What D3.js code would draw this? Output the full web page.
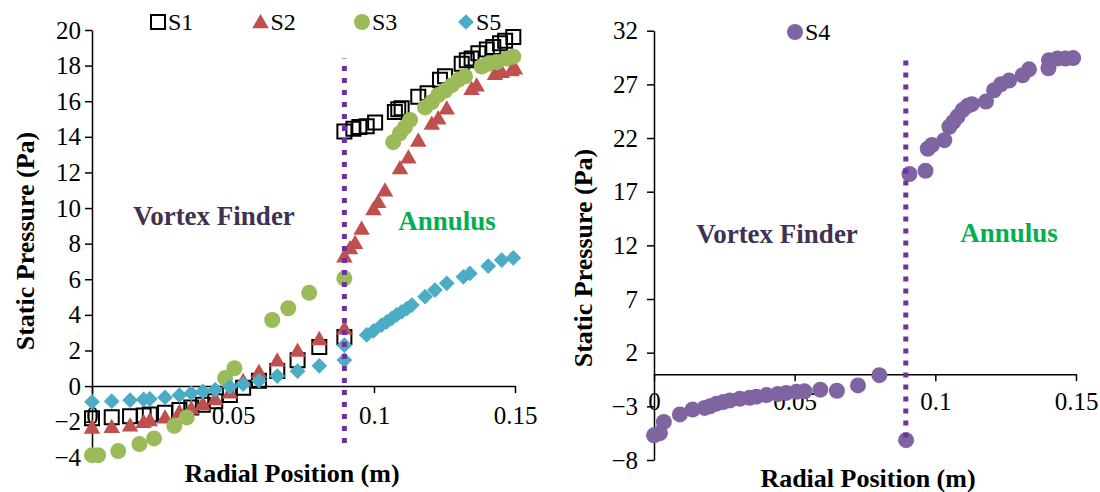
<!DOCTYPE html>
<html><head><meta charset="utf-8">
<script src="https://cdn.jsdelivr.net/npm/d3@7"></script>
<style>
body{margin:0;background:#fff}
svg{display:block}
text{font-family:"Liberation Serif","Times New Roman",serif}
</style>
</head><body>
<svg id="c" width="1100" height="492"></svg>
<script>
// ---------- data ----------
const xTicks = [0, 0.05, 0.1, 0.15];
const yTicksL = [-4, -2, 0, 2, 4, 6, 8, 10, 12, 14, 16, 18, 20];
const yTicksR = [-8, -3, 2, 7, 12, 17, 22, 27, 32];
const seriesNamesL = ["S1", "S2", "S3", "S5"];
const seriesNamesR = ["S4"];

const s1x = [0,0.007,0.0135,0.0183,0.0205,0.0259,0.031,0.0352,0.0393,0.0437,0.0489,0.0536,0.0592,0.0657,0.0729,0.0806,0.0895,
  0.0895,0.0927,0.0948,0.0974,0.1004,0.1074,0.1086,0.1098,0.1157,0.119,0.1234,0.1252,0.1311,0.1329,0.1346,0.137,0.14,0.1423,0.1447,0.1465,0.1494];
const s1y = [-1.8,-1.75,-1.7,-1.65,-1.6,-1.5,-1.35,-1.2,-1.05,-0.85,-0.5,-0.1,0.3,0.85,1.45,2.2,2.75,
  14.3,14.45,14.55,14.6,14.8,15.4,15.55,15.6,16.25,16.45,17.2,17.4,18.1,18.3,18.4,18.7,18.9,19.05,19.25,19.4,19.6];

const s2x = [0,0.007,0.0135,0.0183,0.0205,0.0259,0.031,0.0352,0.0393,0.0437,0.0489,0.0536,0.0592,0.0657,0.0729,0.0806,0.0895,
  0.0895,0.0915,0.0933,0.0956,0.0998,0.1015,0.1039,0.1092,0.1122,0.1157,0.1205,0.1228,0.1258,0.1346,0.1364,0.1429,0.1453,0.1488,0.15];
const s2y = [-2.32,-2.28,-2.2,-2.0,-1.9,-1.75,-1.45,-1.25,-1.0,-0.72,-0.35,0.3,0.8,1.45,2.0,2.65,3.25,
  7.3,7.75,8.05,8.85,9.95,10.35,11.0,12.25,12.85,13.8,14.75,15.05,15.6,16.7,16.9,17.55,17.65,17.75,17.85];

const s3x = [0,0.0022,0.0093,0.0168,0.022,0.0292,0.0336,0.0472,0.0505,0.0639,0.0696,0.077,0.0895,
  0.1068,0.1092,0.111,0.1128,0.1181,0.1205,0.1228,0.1252,0.1276,0.1299,0.1323,0.1382,0.1405,0.1435,0.1471,0.1494];
const s3y = [-3.88,-3.88,-3.65,-3.26,-2.94,-2.23,-1.76,0.45,1.0,3.71,4.37,5.24,6.05,
  13.7,14.2,14.55,14.95,15.65,15.95,16.35,16.6,16.9,17.2,17.4,17.95,18.1,18.2,18.4,18.5];

const s5x = [0,0.007,0.0135,0.0183,0.0205,0.0259,0.031,0.0352,0.0393,0.0437,0.0489,0.0536,0.0592,0.0657,0.0729,0.0806,0.0895,
  0.0895,0.0974,0.0998,0.1027,0.1045,0.1063,0.108,0.1098,0.1116,0.1134,0.1181,0.1216,0.1258,0.1317,0.134,0.1405,0.1453,0.1494];
const s5y = [-0.88,-0.85,-0.79,-0.75,-0.72,-0.64,-0.51,-0.4,-0.3,-0.2,-0.04,0.11,0.3,0.56,0.84,1.14,1.46,
  2.3,2.87,3.1,3.43,3.6,3.8,4.0,4.17,4.35,4.55,5.02,5.39,5.77,6.14,6.33,6.74,7.08,7.2];

const s4x = [0,0.0021,0.0035,0.0092,0.0137,0.018,0.0199,0.0222,0.0246,0.027,0.0305,0.034,0.0364,0.04,0.044,0.047,0.0506,0.0535,0.0591,0.065,0.0725,0.0801,0.0896,
  0.0908,0.0965,0.0973,0.0988,0.1032,0.105,0.1064,0.1079,0.1097,0.1115,0.113,0.118,0.1209,0.1233,0.1262,0.131,0.1333,0.1402,0.1404,0.1434,0.1462,0.149];
const s4y = [-5.7,-5.5,-4.45,-3.75,-3.3,-3.15,-3.0,-2.75,-2.6,-2.45,-2.3,-2.2,-2.1,-1.95,-1.85,-1.75,-1.65,-1.6,-1.45,-1.55,-1.05,-0.1,-6.15,
  18.65,18.95,21.0,21.35,21.8,23.05,23.5,24.0,24.6,25.0,25.15,25.4,26.45,27.0,27.35,27.85,28.4,28.5,29.25,29.4,29.4,29.45];

const boundaryX = [0.0895, 0.0895];
const boundaryYL = [-3.2, 18.4];
const boundaryYR = [-5.9, 29.3];

// ---------- drawing ----------
const svg = d3.select("#c");
const FONT = '"Liberation Serif","Times New Roman",serif';
const col = {S1:"#000000", S2:"#C0504D", S3:"#9BBB59", S5:"#4BACC6", S4:"#8064A2"};

const xL = d3.scaleLinear().domain([0, 0.15]).range([92, 515]);
const yL = d3.scaleLinear().domain([-4, 20]).range([457.3, 30]);
const xR = d3.scaleLinear().domain([0, 0.15]).range([654, 1076]);
const yR = d3.scaleLinear().domain([-8, 32]).range([460, 30.7]);

const fmt = d => d === 0 ? "0" : String(d);

function styleAxis(g) {
  g.selectAll("path,line").attr("stroke", "#000").attr("stroke-width", 1.5);
  g.selectAll("text").attr("font-family", FONT).attr("font-size", 25).attr("fill", "#000");
}

function axes(x, y, yTicks, pad, xLabY) {
  const ga = svg.append("g").attr("transform", `translate(${x(0)},0)`)
    .call(d3.axisLeft(y).tickValues(yTicks).tickSize(7).tickSizeOuter(0).tickPadding(pad));
  styleAxis(ga);
  const gb = svg.append("g").attr("transform", `translate(0,${y(0)})`)
    .call(d3.axisBottom(x).tickValues(xTicks).tickFormat(fmt).tickSize(7).tickSizeOuter(0));
  styleAxis(gb);
  gb.selectAll("text").attr("dy", null).attr("y", xLabY);
}
axes(xL, yL, yTicksL, 4, 38);
axes(xR, yR, yTicksR, 9, 36);

// symbols
const sq = d3.symbol().type(d3.symbolSquare).size(196);
const tri = d3.symbol().type(d3.symbolTriangle).size(118);
const dia = d3.symbol().type(d3.symbolSquare).size(124);
const rC = 8;

function pts(xs, ys) { return xs.map((v, i) => ({x: v, y: ys[i]})); }

const gL = svg.append("g");
gL.selectAll(".s1").data(pts(s1x, s1y)).join("path")
  .attr("d", sq).attr("transform", d => `translate(${xL(d.x)},${yL(d.y)})`)
  .attr("fill", "none").attr("stroke", col.S1).attr("stroke-width", 2);
gL.selectAll(".s2").data(pts(s2x, s2y)).join("path")
  .attr("d", tri).attr("transform", d => `translate(${xL(d.x)},${yL(d.y)+1.5})`)
  .attr("fill", col.S2);
gL.selectAll(".s3").data(pts(s3x, s3y)).join("circle")
  .attr("cx", d => xL(d.x)).attr("cy", d => yL(d.y)).attr("r", rC)
  .attr("fill", col.S3);
gL.selectAll(".s5").data(pts(s5x, s5y)).join("path")
  .attr("d", dia).attr("transform", d => `translate(${xL(d.x)},${yL(d.y)}) rotate(45)`)
  .attr("fill", col.S5);

const gR = svg.append("g");
gR.selectAll(".s4").data(pts(s4x, s4y)).join("circle")
  .attr("cx", d => xR(d.x)).attr("cy", d => yR(d.y)).attr("r", rC)
  .attr("fill", col.S4);

// boundary dotted lines
const line = (x, y) => d3.line().x(d => x(d.x)).y(d => y(d.y));
svg.append("path").datum(pts(boundaryX, boundaryYL)).attr("d", line(xL, yL))
  .attr("stroke", "#7030A0").attr("stroke-width", 5).attr("stroke-dasharray", "5,7").attr("fill", "none");
svg.append("path").datum(pts(boundaryX, boundaryYR)).attr("d", line(xR, yR))
  .attr("stroke", "#7030A0").attr("stroke-width", 5).attr("stroke-dasharray", "5,7").attr("fill", "none");

// region labels
function lab(x, y, t, c) {
  svg.append("text").attr("x", x).attr("y", y).attr("text-anchor", "middle")
    .attr("font-family", FONT).attr("font-weight", "bold").attr("font-size", 27).attr("fill", c).text(t);
}
lab(214, 225, "Vortex Finder", "#403152");
lab(447, 230, "Annulus", "#00B050");
lab(777, 243, "Vortex Finder", "#403152");
lab(1009, 242, "Annulus", "#00B050");

// axis titles
function title(x, y, t, rot) {
  const e = svg.append("text").attr("text-anchor", "middle").attr("font-family", FONT)
    .attr("font-weight", "bold").attr("font-size", 26).attr("fill", "#000").text(t);
  if (rot) e.attr("transform", `translate(${x},${y}) rotate(-90)`);
  else e.attr("x", x).attr("y", y);
}
title(292, 482, "Radial Position (m)");
title(868, 487, "Radial Position (m)");
title(34, 241, "Static Pressure (Pa)", true);
title(592, 258, "Static Pressure (Pa)", true);

// legends
const legL = [
  {n: seriesNamesL[0], x: 158, draw: g => g.append("path").attr("d", sq).attr("fill", "none").attr("stroke", col.S1).attr("stroke-width", 2)},
  {n: seriesNamesL[1], x: 260.5, draw: g => g.append("path").attr("d", tri).attr("transform", "translate(0,1.5)").attr("fill", col.S2)},
  {n: seriesNamesL[2], x: 362, draw: g => g.append("circle").attr("r", rC).attr("fill", col.S3)},
  {n: seriesNamesL[3], x: 466, draw: g => g.append("path").attr("d", dia).attr("transform", "rotate(45)").attr("fill", col.S5)}
];
legL.forEach(l => {
  const g = svg.append("g").attr("transform", `translate(${l.x},22)`);
  l.draw(g);
  svg.append("text").attr("x", l.x + 10).attr("y", 30).attr("font-family", FONT).attr("font-size", 24).text(l.n);
});
const g4 = svg.append("g").attr("transform", "translate(795,32)");
g4.append("circle").attr("r", rC).attr("fill", col.S4);
svg.append("text").attr("x", 805).attr("y", 40).attr("font-family", FONT).attr("font-size", 24).text(seriesNamesR[0]);
</script>
</body></html>
